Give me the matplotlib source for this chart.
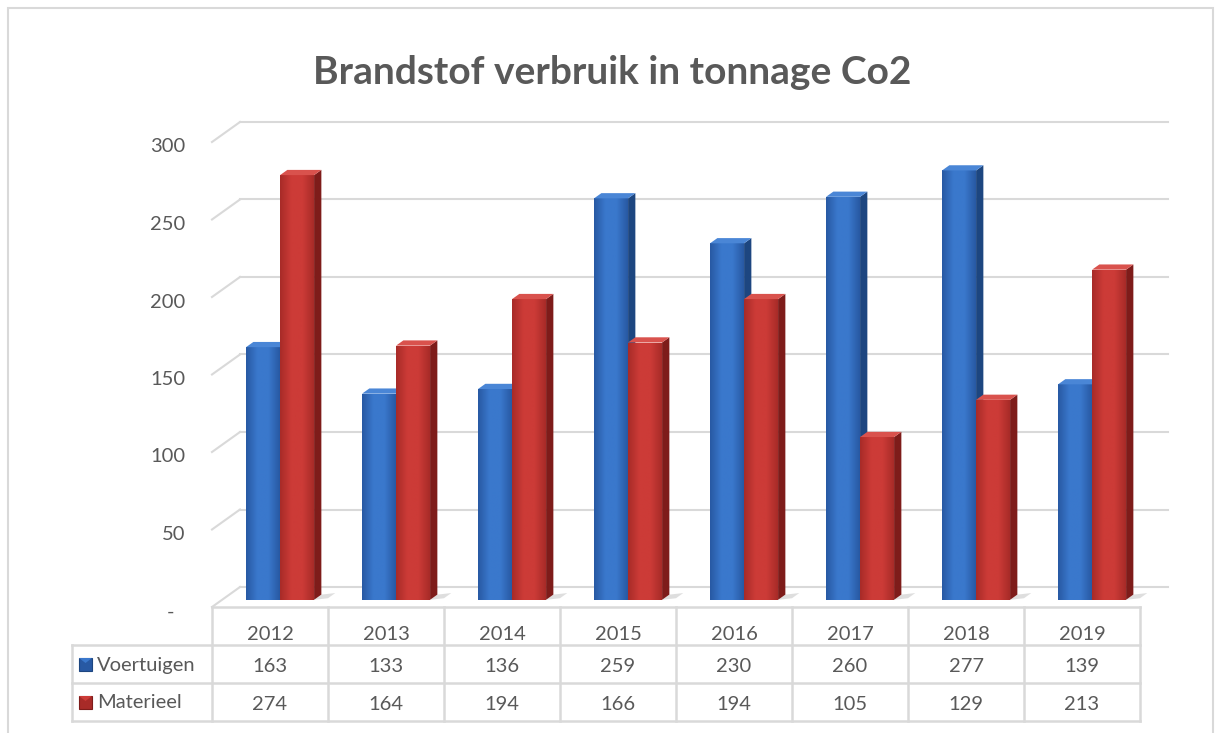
import matplotlib.pyplot as plt
import matplotlib.transforms as mtransforms
from matplotlib.patches import Polygon, Rectangle
import numpy as np

years = ["2012", "2013", "2014", "2015", "2016", "2017", "2018", "2019"]
series_names = ["Voertuigen", "Materieel"]
voertuigen = [163, 133, 136, 259, 230, 260, 277, 139]
materieel = [274, 164, 194, 166, 194, 105, 129, 213]
y_ticks = [0, 50, 100, 150, 200, 250, 300]
y_tick_labels = ["-", "50", "100", "150", "200", "250", "300"]

W, H = 1217, 733
plt.rcParams["font.family"] = ["Lato", "DejaVu Sans"]
text_col = "#595959"
grid_col = "#D9D9D9"

fig = plt.figure(figsize=(W / 100, H / 100), dpi=100)

# chart frame
fig.patches.append(Rectangle((8 / W, -0.01), (W - 4 - 8) / W, 1 - 8 / H + 0.01,
                             transform=fig.transFigure, fill=False,
                             edgecolor="#D9D9D9", lw=1.5))

fig.text(612 / W, 1 - 73 / H, "Brandstof verbruik in tonnage Co2", ha="center",
         va="center", fontsize=28, fontweight="bold", color=text_col)

# plot area in pixels: front-left (212, 607), back-right (1168, 122)
px_left, px_right, px_bottom, px_top = 212, 1168, 607, 122
ax = fig.add_axes([px_left / W, 1 - px_bottom / H,
                   (px_right - px_left) / W, (px_bottom - px_top) / H])
ncat = len(years)
px_per_cat = (1140 - 212) / ncat
dxd = 28 / px_per_cat
px_per_val = (px_bottom - px_top - 20) / 300
dyd = 20 / px_per_val
ax.set_xlim(0, ncat + dxd)
ax.set_ylim(0, 300 + dyd)
ax.axis("off")

# gridlines: side wall diagonals and back wall horizontals
for v in y_ticks:
    ax.plot([0, dxd], [v, v + dyd], color=grid_col, lw=1.5, zorder=1, clip_on=False)
    ax.plot([dxd, ncat + dxd], [v + dyd, v + dyd], color=grid_col, lw=1.5, zorder=1,
            clip_on=False)

# y tick labels
lab_tr = mtransforms.offset_copy(ax.transData, fig=fig, x=0, y=-5, units="dots")
for v, lab in zip(y_ticks, y_tick_labels):
    xlab = -27 / px_per_cat if lab != "-" else -38 / px_per_cat
    ax.text(xlab, v, lab, transform=lab_tr, ha="right", va="center",
            fontsize=14.5, color=text_col)

# 3D columns
a, b = 0.36, 0.62
w = 34 / px_per_cat
styles = [
    dict(light="#3A78CC", dark="#2859A3", side="#1D4680", top="#4A86D6"),
    dict(light="#CC3B37", dark="#A82B28", side="#7E1C1A", top="#D9524D"),
]
grad = np.linspace(0, 1, 64).reshape(1, -1)

for i in range(ncat):
    for k, vals in enumerate([voertuigen, materieel]):
        v = vals[i]
        s = styles[k]
        x0 = i + 0.5 - w + k * w
        fx0, fx1 = x0 + a * dxd, x0 + w + a * dxd
        fy0, fy1 = a * dyd, v + a * dyd
        z = 3 + i * 2 + k
        # soft shadow on the floor
        sh = Polygon([(fx1, fy0), (fx1 + 0.12, fy0 + 1), (x0 + w + b * dxd + 0.12, b * dyd + 1),
                      (x0 + w + b * dxd, b * dyd)], closed=True, facecolor="#BFBFBF",
                     edgecolor="none", alpha=0.5, zorder=2)
        ax.add_patch(sh)
        front = Rectangle((fx0, fy0), w, v, facecolor=s["dark"], edgecolor="none", zorder=z)
        ax.add_patch(front)
        cmap = plt.matplotlib.colors.LinearSegmentedColormap.from_list(
            "g", [s["dark"], s["light"], s["light"], s["dark"]])
        im = ax.imshow(grad, extent=(fx0, fx1, fy0, fy1), aspect="auto", cmap=cmap,
                       zorder=z, interpolation="bilinear")
        im.set_clip_path(front)
        side = Polygon([(fx1, fy0), (x0 + w + b * dxd, b * dyd), (x0 + w + b * dxd, v + b * dyd),
                        (fx1, fy1)], closed=True, facecolor=s["side"], edgecolor="none", zorder=z)
        ax.add_patch(side)
        top = Polygon([(fx0, fy1), (fx1, fy1), (x0 + w + b * dxd, v + b * dyd),
                       (x0 + b * dxd, v + b * dyd)], closed=True, facecolor=s["top"],
                      edgecolor="none", zorder=z)
        ax.add_patch(top)

# data table (x in category units, y in figure pixels)
tt = mtransforms.blended_transform_factory(ax.transData, fig.transFigure)
def fy(p):
    return 1 - p / H

row_y = [607, 645, 683, 721]
lab_x0 = (72 - 212) / px_per_cat
tl = dict(color=grid_col, lw=1.8, transform=tt, clip_on=False)
ax.plot([0, ncat], [fy(row_y[0])] * 2, **tl)
for r in row_y[1:]:
    ax.plot([lab_x0, ncat], [fy(r)] * 2, **tl)
for i in range(ncat + 1):
    ax.plot([i, i], [fy(row_y[0]), fy(row_y[3])], **tl)
ax.plot([lab_x0, lab_x0], [fy(row_y[1]), fy(row_y[3])], **tl)

for i, yr in enumerate(years):
    ax.text(i + 0.5, fy(634), yr, transform=tt, ha="center", va="center",
            fontsize=14.5, color=text_col)
    ax.text(i + 0.5, fy(666), str(voertuigen[i]), transform=tt, ha="center",
            va="center", fontsize=14.5, color=text_col)
    ax.text(i + 0.5, fy(705), str(materieel[i]), transform=tt, ha="center",
            va="center", fontsize=14.5, color=text_col)

key_w = 13 / px_per_cat
for k, (name, yc) in enumerate(zip(series_names, [664, 702])):
    s = styles[k]
    kx = (79 - 212) / px_per_cat
    key = Rectangle((kx, fy(yc + 7)), key_w, 13 / H, transform=tt, facecolor=s["dark"],
                    edgecolor=s["side"], lw=0.8, clip_on=False)
    ax.add_patch(key)
    ax.add_patch(Polygon([(kx, fy(yc - 6)), (kx + key_w, fy(yc - 6)),
                          (kx + key_w / 2, fy(yc - 1))], closed=True, transform=tt,
                         facecolor=s["light"], edgecolor="none", clip_on=False))
    ax.text((97 - 212) / px_per_cat, fy(yc + 1), name, transform=tt, ha="left",
            va="center", fontsize=14.5, color=text_col)

fig.savefig("out.png", dpi=100)
